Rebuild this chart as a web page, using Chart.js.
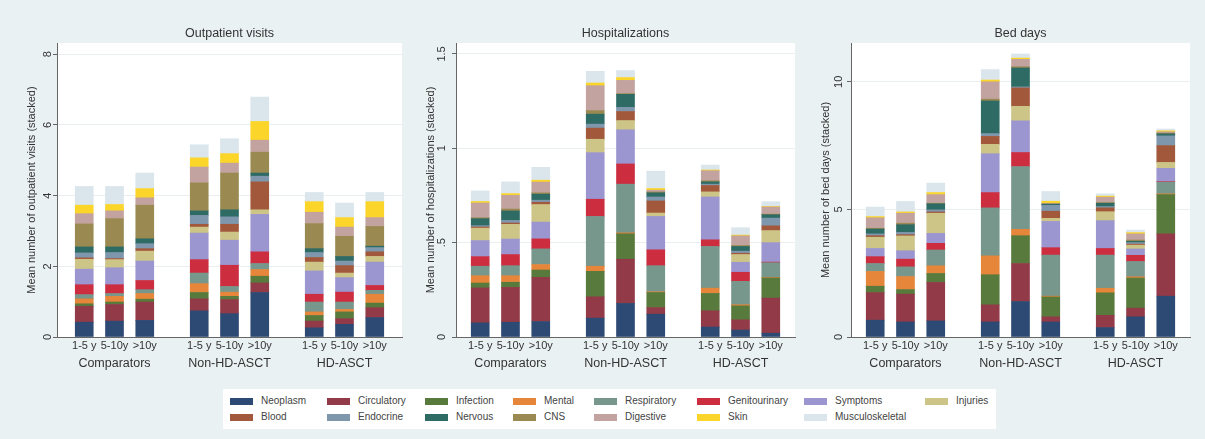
<!DOCTYPE html>
<html>
<head>
<meta charset="utf-8">
<script src="https://cdn.jsdelivr.net/npm/chart.js@4"></script>
<style>
    html, body { margin: 0; padding: 0; background: #eaf1f3; }
    body { width: 1205px; height: 439px; position: relative; overflow: hidden; font-family: Arial, "Liberation Sans", sans-serif; }
    canvas { position: absolute; top: 0; }
    #legend { position: absolute; left: 223px; top: 389px; width: 773px; height: 40px; background: #fff; }
    .item { position: absolute; font-size: 10px; line-height: 12px; color: #444; white-space: nowrap; }
    .item span { display: inline-block; width: 23px; height: 7px; margin-right: 8px; vertical-align: -1px; }
</style>
</head>
<body>
<canvas id="outpatient" width="405" height="380" style="left:0px"></canvas>
<canvas id="hospital" width="400" height="380" style="left:399px"></canvas>
<canvas id="beddays" width="400" height="380" style="left:794px"></canvas>
<div id="legend"></div>
<script>
const groups = ['Comparators', 'Non-HD-ASCT', 'HD-ASCT'];
const periods = ['1-5 y', '5-10y', '>10y'];

// stacking order, bottom to top
const causes = ['Neoplasm', 'Circulatory', 'Infection', 'Mental', 'Respiratory', 'Genitourinary', 'Symptoms', 'Injuries',
    'Blood', 'Endocrine', 'Nervous', 'CNS', 'Digestive', 'Skin', 'Musculoskeletal'];
const causeColors = ['#2c4a73', '#933a48', '#587a3c', '#e5863a', '#77968c', '#cc2e40', '#9b95d0', '#cdc487',
    '#a2583a', '#7f97ac', '#2f6b65', '#9a8a52', '#c3a39f', '#fbd52a', '#dae6eb'];

// one row per bar (group x period), one value per cause in the order above
const outpatientVisits = [
    [0.42, 0.45, 0.07, 0.14, 0.12, 0.28, 0.44, 0.28, 0.04, 0.14, 0.17, 0.65, 0.29, 0.24, 0.53],
    [0.45, 0.47, 0.07, 0.16, 0.08, 0.25, 0.48, 0.23, 0.03, 0.17, 0.16, 0.80, 0.22, 0.18, 0.51],
    [0.47, 0.52, 0.08, 0.16, 0.11, 0.26, 0.55, 0.28, 0.07, 0.14, 0.14, 0.95, 0.21, 0.26, 0.44],
    [0.74, 0.34, 0.18, 0.25, 0.30, 0.38, 0.75, 0.17, 0.08, 0.25, 0.13, 0.79, 0.45, 0.26, 0.37],
    [0.66, 0.40, 0.09, 0.12, 0.16, 0.60, 0.71, 0.23, 0.22, 0.21, 0.20, 1.04, 0.28, 0.27, 0.42],
    [1.26, 0.27, 0.19, 0.19, 0.17, 0.33, 1.06, 0.13, 0.79, 0.16, 0.09, 0.59, 0.34, 0.53, 0.69],
    [0.26, 0.19, 0.16, 0.10, 0.28, 0.22, 0.66, 0.25, 0.13, 0.14, 0.11, 0.71, 0.32, 0.30, 0.26],
    [0.36, 0.16, 0.19, 0.07, 0.21, 0.28, 0.41, 0.13, 0.21, 0.13, 0.13, 0.57, 0.26, 0.27, 0.41],
    [0.55, 0.28, 0.13, 0.25, 0.11, 0.14, 0.66, 0.16, 0.13, 0.12, 0.04, 0.56, 0.25, 0.45, 0.26]
];
const hospitalizations = [
    [0.075, 0.185, 0.026, 0.039, 0.050, 0.051, 0.085, 0.066, 0.006, 0.007, 0.037, 0.005, 0.078, 0.008, 0.056],
    [0.078, 0.185, 0.027, 0.035, 0.053, 0.059, 0.082, 0.078, 0.007, 0.014, 0.050, 0.010, 0.073, 0.009, 0.062],
    [0.082, 0.234, 0.039, 0.029, 0.083, 0.053, 0.089, 0.093, 0.012, 0.011, 0.032, 0.007, 0.057, 0.010, 0.068],
    [0.100, 0.113, 0.135, 0.027, 0.264, 0.091, 0.247, 0.071, 0.059, 0.021, 0.053, 0.019, 0.132, 0.014, 0.062],
    [0.178, 0.234, 0.135, 0.005, 0.258, 0.107, 0.181, 0.049, 0.048, 0.022, 0.069, 0.004, 0.070, 0.015, 0.037],
    [0.121, 0.035, 0.080, 0.004, 0.138, 0.084, 0.177, 0.018, 0.064, 0.021, 0.022, 0.005, 0.009, 0.009, 0.092],
    [0.053, 0.086, 0.092, 0.028, 0.221, 0.035, 0.227, 0.027, 0.034, 0.007, 0.012, 0.006, 0.053, 0.004, 0.026],
    [0.037, 0.054, 0.074, 0.006, 0.124, 0.048, 0.053, 0.041, 0.007, 0.011, 0.025, 0.005, 0.051, 0.004, 0.039],
    [0.020, 0.186, 0.107, 0.003, 0.078, 0.003, 0.103, 0.064, 0.025, 0.041, 0.018, 0.003, 0.038, 0.003, 0.025]
];
const bedDays = [
    [0.66, 1.08, 0.25, 0.58, 0.31, 0.27, 0.32, 0.44, 0.06, 0.07, 0.19, 0.03, 0.41, 0.05, 0.37],
    [0.59, 1.09, 0.18, 0.51, 0.38, 0.30, 0.33, 0.58, 0.05, 0.09, 0.30, 0.06, 0.39, 0.05, 0.41],
    [0.63, 1.51, 0.35, 0.30, 0.62, 0.26, 0.39, 0.79, 0.05, 0.08, 0.24, 0.02, 0.34, 0.08, 0.37],
    [0.59, 0.67, 1.18, 0.74, 1.88, 0.60, 1.52, 0.37, 0.31, 0.11, 1.28, 0.07, 0.68, 0.07, 0.41],
    [1.39, 1.49, 1.09, 0.25, 2.46, 0.55, 1.24, 0.57, 0.72, 0.04, 0.74, 0.05, 0.29, 0.05, 0.16],
    [0.59, 0.20, 0.78, 0.03, 1.61, 0.29, 1.03, 0.12, 0.28, 0.23, 0.04, 0.02, 0.02, 0.08, 0.38],
    [0.37, 0.48, 0.88, 0.18, 1.30, 0.26, 1.09, 0.35, 0.15, 0.05, 0.13, 0.03, 0.21, 0.04, 0.09],
    [0.79, 0.34, 1.18, 0.05, 0.60, 0.24, 0.25, 0.15, 0.04, 0.06, 0.05, 0.05, 0.24, 0.05, 0.10],
    [1.60, 2.44, 1.54, 0.03, 0.46, 0.02, 0.52, 0.23, 0.66, 0.38, 0.08, 0.03, 0.05, 0.04, 0.07]
];

const outpatientTicks = [0, 2, 4, 6, 8];
const outpatientTickLabels = ['0', '2', '4', '6', '8'];
const hospitalTicks = [0, 0.5, 1, 1.5];
const hospitalTickLabels = ['0', '.5', '1', '1.5'];
const bedDayTicks = [0, 5, 10];
const bedDayTickLabels = ['0', '5', '10'];

// bar positions on the x axis: three bars per group, wider gap between groups
const GROUP_STEP = 3.8;
const barX = j => Math.floor(j / 3) * GROUP_STEP + (j % 3) + 1;
const barCentres = outpatientVisits.map((b, j) => barX(j));
const groupCentres = groups.map((g, k) => k * GROUP_STEP + 2);

const FONT = 'Arial, "Liberation Sans", sans-serif';
const TEXT = '#333';
const AXIS = '#666';

const plotBackground = {
    id: 'plotBackground',
    beforeDraw(chart) {
        const { ctx, chartArea: a } = chart;
        ctx.save();
        ctx.fillStyle = '#fff';
        ctx.fillRect(a.left, a.top, a.right - a.left, a.bottom - a.top);
        ctx.restore();
    }
};

function drawPanel(canvasId, title, yTitle, bars, yMax, yTicks, yLabels, edge, rightPad) {
    const xMin = 1 - edge;
    const xMax = barCentres[barCentres.length - 1] + edge;
    const datasets = causes.map((cause, i) => ({
        label: cause,
        data: bars.map((b, j) => ({ x: barX(j), y: b[i] })),
        backgroundColor: causeColors[i],
        borderWidth: 0,
        barThickness: 18
    }));

    return new Chart(document.getElementById(canvasId), {
        type: 'bar',
        data: { datasets },
        options: {
            responsive: false,
            animation: false,
            events: [],
            layout: { padding: { left: 0, right: rightPad, top: 0, bottom: 8 } },
            plugins: {
                legend: { display: false },
                tooltip: { enabled: false },
                title: {
                    display: true, text: title, fullSize: false, color: TEXT,
                    font: { family: FONT, size: 12.5, weight: 'normal' },
                    padding: { top: 26, bottom: 2 }
                }
            },
            scales: {
                x: {
                    type: 'linear', stacked: true, offset: false, min: xMin, max: xMax,
                    grid: { display: false, drawTicks: false, offset: false },
                    border: { color: AXIS },
                    afterBuildTicks: s => { s.ticks = barCentres.map(v => ({ value: v })); },
                    afterFit: s => { s.height = 16; },
                    ticks: {
                        autoSkip: false, maxRotation: 0, minRotation: 0, padding: 2, color: TEXT,
                        font: { family: FONT, size: 11 },
                        callback: (v, i) => periods[i % 3]
                    }
                },
                x2: {
                    type: 'linear', position: 'bottom', offset: false, min: xMin, max: xMax,
                    grid: { display: false, drawTicks: false },
                    border: { display: false },
                    afterBuildTicks: s => { s.ticks = groupCentres.map(v => ({ value: v })); },
                    afterFit: s => { s.height = 19; },
                    ticks: {
                        autoSkip: false, maxRotation: 0, minRotation: 0, padding: 3, color: TEXT,
                        font: { family: FONT, size: 12.5 },
                        callback: (v, i) => groups[i]
                    }
                },
                y: {
                    stacked: true, min: 0, max: yMax,
                    afterBuildTicks: s => { s.ticks = yTicks.map(v => ({ value: v })); },
                    afterFit: s => { s.width = 57; },
                    grid: { color: '#e9eff1', tickColor: AXIS, tickLength: 4 },
                    border: { color: AXIS },
                    ticks: {
                        minRotation: 90, maxRotation: 90, crossAlign: 'center', padding: 2, color: TEXT,
                        font: { family: FONT, size: 11 },
                        callback: (v, i) => yLabels[i]
                    },
                    title: {
                        display: true, text: yTitle, color: TEXT,
                        font: { family: FONT, size: 11 },
                        padding: { top: 25, bottom: 0 }
                    }
                }
            }
        },
        plugins: [plotBackground]
    });
}

drawPanel('outpatient', 'Outpatient visits', 'Mean number of outpatient visits (stacked)',
    outpatientVisits, 8.32, outpatientTicks, outpatientTickLabels, 0.9, 3);
drawPanel('hospital', 'Hospitalizations', 'Mean number of hospitalizations (stacked)',
    hospitalizations, 1.558, hospitalTicks, hospitalTickLabels, 0.8, 4);
drawPanel('beddays', 'Bed days', 'Mean number of bed days (stacked)',
    bedDays, 11.52, bedDayTicks, bedDayTickLabels, 0.8, 4);

// legend: two rows, eight columns, same order as the stacks
const legendCols = [7, 104, 202, 290, 371, 474, 581, 702];
const legendRows = [6, 22];
const legend = document.getElementById('legend');
causes.forEach((cause, i) => {
    const item = document.createElement('div');
    item.className = 'item';
    item.style.left = legendCols[i % 8] + 'px';
    item.style.top = legendRows[Math.floor(i / 8)] + 'px';
    item.innerHTML = '<span style="background:' + causeColors[i] + '"></span>' + cause;
    legend.appendChild(item);
});
</script>
</body>
</html>
